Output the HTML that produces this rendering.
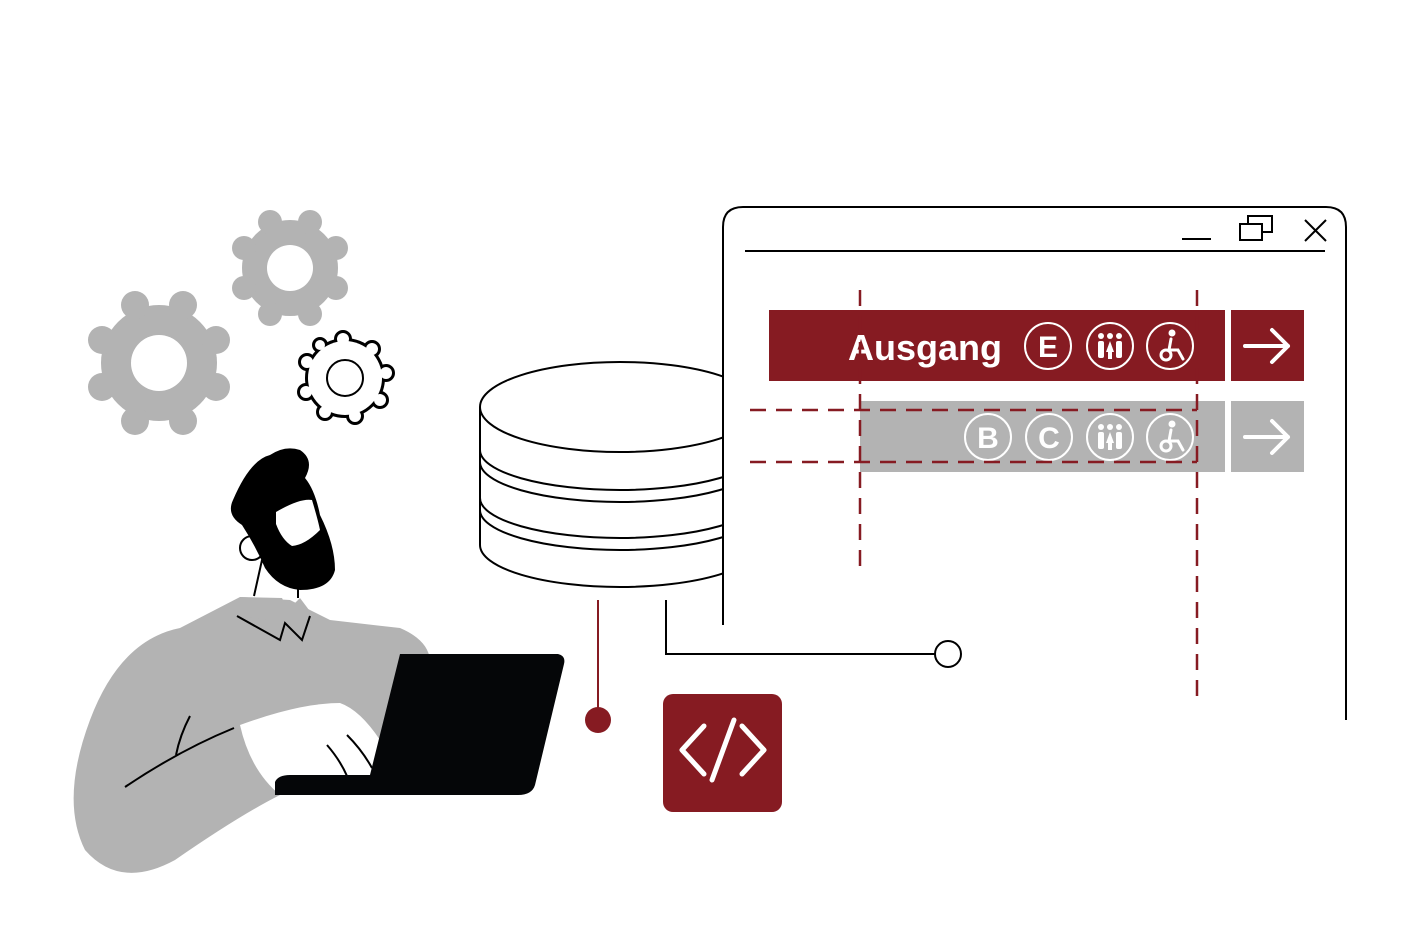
<!DOCTYPE html>
<html><head><meta charset="utf-8"><style>html,body{margin:0;padding:0;background:#fff}svg{display:block}</style></head><body>
<svg width="1418" height="946" viewBox="0 0 1418 946" xmlns="http://www.w3.org/2000/svg">
<!-- gears -->
<g fill="#b3b3b3">
<circle cx="159" cy="363" r="58"/>
<circle cx="135" cy="305" r="14"/><circle cx="183" cy="305" r="14"/>
<circle cx="216" cy="340" r="14"/><circle cx="216" cy="387" r="14"/>
<circle cx="135" cy="421" r="14"/><circle cx="183" cy="421" r="14"/>
<circle cx="102" cy="340" r="14"/><circle cx="102" cy="387" r="14"/>
<circle cx="290" cy="268" r="48"/>
<circle cx="270" cy="222" r="12"/><circle cx="310" cy="222" r="12"/>
<circle cx="336" cy="248" r="12"/><circle cx="336" cy="288" r="12"/>
<circle cx="270" cy="314" r="12"/><circle cx="310" cy="314" r="12"/>
<circle cx="244" cy="248" r="12"/><circle cx="244" cy="288" r="12"/>
</g>
<circle cx="159" cy="363" r="28" fill="#fff"/>
<circle cx="290" cy="268" r="23" fill="#fff"/>
<g stroke="#000" stroke-width="4" fill="#fff">
<circle cx="345" cy="378" r="38"/>
<circle cx="343" cy="339" r="7"/><circle cx="372" cy="349" r="7"/><circle cx="386" cy="373" r="7"/>
<circle cx="380" cy="400" r="7"/><circle cx="355" cy="416" r="7"/><circle cx="325" cy="412" r="7"/>
<circle cx="306" cy="392" r="7"/><circle cx="307" cy="362" r="7"/><circle cx="320" cy="345" r="6"/>
</g>
<g fill="#fff">
<circle cx="345" cy="378" r="37"/>
<circle cx="343" cy="339" r="6"/><circle cx="372" cy="349" r="6"/><circle cx="386" cy="373" r="6"/>
<circle cx="380" cy="400" r="6"/><circle cx="355" cy="416" r="6"/><circle cx="325" cy="412" r="6"/>
<circle cx="306" cy="392" r="6"/><circle cx="307" cy="362" r="6"/><circle cx="320" cy="345" r="5"/>
</g>
<circle cx="345" cy="378" r="18" fill="none" stroke="#000" stroke-width="2"/>

<!-- database -->
<g stroke="#000" stroke-width="2" fill="#fff">
<path d="M480 407 L480 545 A140 42 0 0 0 760 545 L760 407"/>
<path d="M480 450 A140 40 0 0 0 760 450" fill="none"/>
<path d="M480 462 A140 40 0 0 0 760 462" fill="none"/>
<path d="M480 498 A140 40 0 0 0 760 498" fill="none"/>
<path d="M480 510 A140 40 0 0 0 760 510" fill="none"/>
<ellipse cx="620" cy="407" rx="140" ry="45"/>
</g>
<!-- window -->
<path d="M723 625 L723 227 Q723 207 743 207 L1326 207 Q1346 207 1346 227 L1346 720" fill="#fff" stroke="#000" stroke-width="2"/>
<rect x="720" y="626" width="6" height="100" fill="#fff"/>
<line x1="745" y1="251" x2="1325" y2="251" stroke="#000" stroke-width="2"/>
<line x1="1182" y1="239" x2="1211" y2="239" stroke="#000" stroke-width="2"/>
<rect x="1240" y="224" width="22" height="16" fill="#fff" stroke="#000" stroke-width="2"/>
<path d="M1248 224 L1248 216 L1272 216 L1272 232 L1262 232" fill="none" stroke="#000" stroke-width="2"/>
<path d="M1305 220 L1326 241 M1326 220 L1305 241" stroke="#000" stroke-width="2"/>

<!-- signs -->
<rect x="769" y="310" width="456" height="71" fill="#861b22"/>
<rect x="1231" y="310" width="73" height="71" fill="#861b22"/>
<rect x="860" y="401" width="365" height="71" fill="#b3b3b3"/>
<rect x="1231" y="401" width="73" height="71" fill="#b3b3b3"/>
<text x="848" y="360" font-family="Liberation Sans, sans-serif" font-weight="bold" font-size="36" fill="#fff">Ausgang</text>
<g fill="none" stroke="#fff" stroke-width="2">
<circle cx="1048" cy="346" r="23"/><circle cx="1110" cy="346" r="23"/><circle cx="1170" cy="346" r="23"/>
<circle cx="988" cy="437" r="23"/><circle cx="1049" cy="437" r="23"/><circle cx="1110" cy="437" r="23"/><circle cx="1170" cy="437" r="23"/>
</g>
<g font-family="Liberation Sans, sans-serif" font-weight="bold" font-size="30" fill="#fff" text-anchor="middle">
<text x="1048" y="357">E</text><text x="988" y="448">B</text><text x="1049" y="448">C</text>
</g>
<g fill="#fff">
<g id="wc"><circle cx="1101" cy="336" r="3"/><circle cx="1110" cy="336" r="3"/><circle cx="1119" cy="336" r="3"/>
<rect x="1098" y="341" width="6" height="17" rx="2"/><path d="M1110 341 L1114 352 L1106 352 Z"/><rect x="1108" y="350" width="4" height="9"/><rect x="1116" y="341" width="6" height="17" rx="2"/></g>
<use href="#wc" transform="translate(0,91)"/>
<g id="wh"><circle cx="1172" cy="333" r="3.5"/></g>
<use href="#wh" transform="translate(0,91)"/>
</g>
<g fill="none" stroke="#fff" stroke-width="3" stroke-linecap="round">
<path d="M1171 339 L1169 350 L1178 350 L1183 359"/><circle cx="1166" cy="355" r="5"/>
<path d="M1171 430 L1169 441 L1178 441 L1183 450"/><circle cx="1166" cy="446" r="5"/>
</g>
<g fill="none" stroke="#fff" stroke-width="4" stroke-linecap="round" stroke-linejoin="round">
<path d="M1245 346 L1288 346 M1272 330 L1288 346 L1272 362"/>
<path d="M1245 437 L1288 437 M1272 421 L1288 437 L1272 453"/>
</g>
<!-- dashed -->
<g stroke="#861b22" stroke-width="2.5" stroke-dasharray="16 10" fill="none">
<line x1="860" y1="290" x2="860" y2="572"/>
<line x1="1197" y1="290" x2="1197" y2="705"/>
<line x1="750" y1="410" x2="1197" y2="410"/>
<line x1="750" y1="462" x2="1197" y2="462"/>
</g>

<!-- connectors -->
<line x1="598" y1="600" x2="598" y2="712" stroke="#861b22" stroke-width="2"/>
<circle cx="598" cy="720" r="13" fill="#861b22"/>
<path d="M666 600 L666 654 L935 654" fill="none" stroke="#000" stroke-width="2"/>
<circle cx="948" cy="654" r="13" fill="#fff" stroke="#000" stroke-width="2"/>
<rect x="663" y="694" width="119" height="118" rx="10" fill="#861b22"/>
<g fill="none" stroke="#fff" stroke-width="5" stroke-linecap="round" stroke-linejoin="round">
<path d="M704 726 L682 750 L704 774 M742 726 L764 750 L742 774 M734 720 L712 780"/>
</g>

<!-- person -->
<path d="M240 597 L290 600 L330 620 L400 628 Q428 640 430 660 L380 790 L280 795 Q240 815 175 860 Q120 890 85 850 Q60 800 90 720 Q120 640 180 628 Z" fill="#b3b3b3"/>
<path d="M240 597 L282 598 L288 610 L300 598 L312 614 L300 640 L285 625 L270 620 L236 616 Z" fill="#b3b3b3"/>
<path d="M237 616 L280 640 L285 623 L302 640 L310 616" fill="none" stroke="#000" stroke-width="2"/>
<path d="M240 725 Q300 703 340 703 Q360 710 380 740 L375 790 L280 795 Q250 770 240 725 Z" fill="#fff"/>
<path d="M125 787 Q180 750 234 728 M176 755 Q180 735 190 716 M327 745 Q340 760 347 776 M347 735 Q362 750 372 768" fill="none" stroke="#000" stroke-width="2"/>
<path d="M400 654 L558 654 Q566 656 564 664 L535 785 Q532 795 518 795 L275 795 L275 782 Q278 775 290 775 L370 775 Z" fill="#050608"/>
<path d="M262 560 L254 596 M298 588 L298 598" stroke="#000" stroke-width="2"/>
<circle cx="252" cy="548" r="12" fill="#fff" stroke="#000" stroke-width="2"/>
<path d="M233 500 Q250 460 270 455 Q285 445 300 450 Q315 460 305 478 Q315 490 320 515 Q335 545 335 570 Q330 590 300 590 Q278 588 265 568 Q255 545 242 525 Q226 515 233 500 Z" fill="#000"/>
<path d="M276 512 Q300 498 312 500 Q318 520 320 530 Q305 545 292 546 Q282 540 276 524 Z" fill="#fff"/>
</svg>
</body></html>
